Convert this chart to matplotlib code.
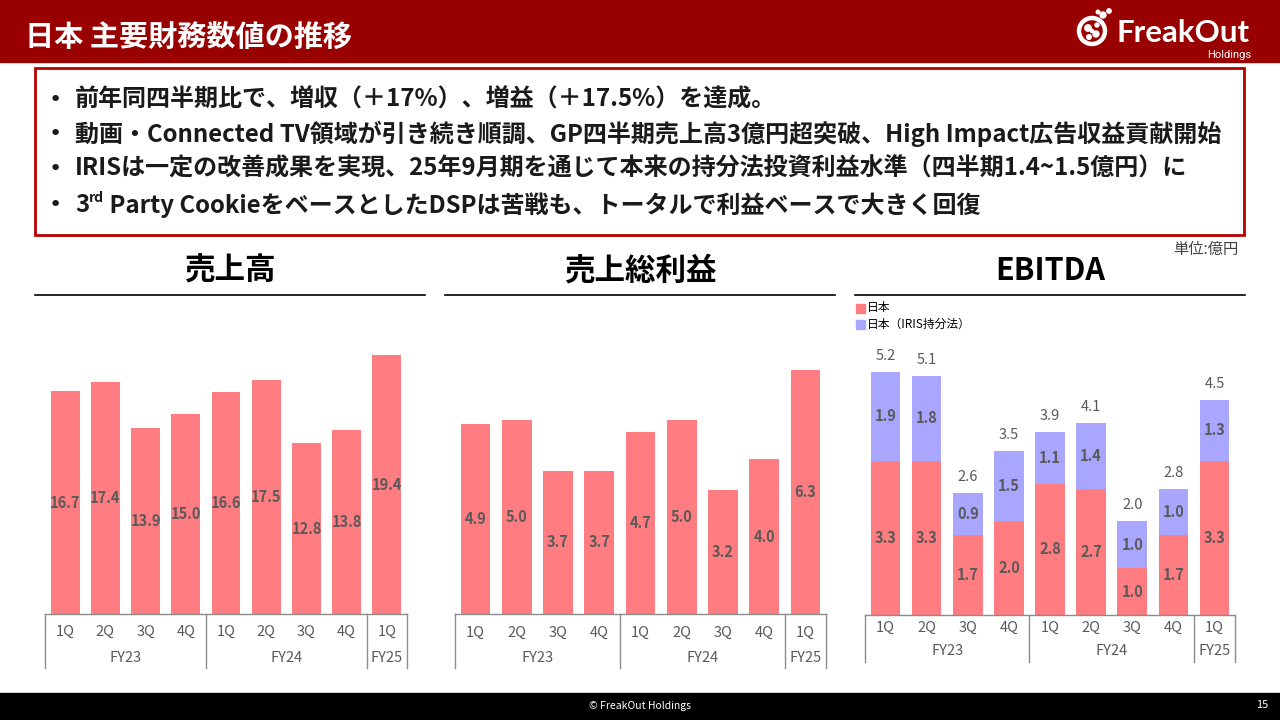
import matplotlib
matplotlib.use('Agg')
import matplotlib.pyplot as plt
from matplotlib.patches import Rectangle, Circle
from matplotlib.transforms import blended_transform_factory

plt.rcParams['font.family'] = ['Noto Sans CJK JP', 'DejaVu Sans']

# ---------------- data ----------------
quarters = ['1Q', '2Q', '3Q', '4Q', '1Q', '2Q', '3Q', '4Q', '1Q']
fiscal_years = ['FY23', 'FY24', 'FY25']
fy_counts = [4, 4, 1]
sales = [16.7, 17.4, 13.9, 15.0, 16.6, 17.5, 12.8, 13.8, 19.4]
gross_profit = [4.9, 5.0, 3.7, 3.7, 4.7, 5.0, 3.2, 4.0, 6.3]
ebitda_japan = [3.3, 3.3, 1.7, 2.0, 2.8, 2.7, 1.0, 1.7, 3.3]
ebitda_iris = [1.9, 1.8, 0.9, 1.5, 1.1, 1.4, 1.0, 1.0, 1.3]
ebitda_total = [5.2, 5.1, 2.6, 3.5, 3.9, 4.1, 2.0, 2.8, 4.5]
chart_titles = ['売上高', '売上総利益', 'EBITDA']
legend_labels = ['日本', '日本（IRIS持分法）']
bullets = [
    '前年同四半期比で、増収（＋17%）、増益（＋17.5%）を達成。',
    '動画・Connected TV領域が引き続き順調、GP四半期売上高3億円超突破、High Impact広告収益貢献開始',
    'IRISは一定の改善成果を実現、25年9月期を通じて本来の持分法投資利益水準（四半期1.4~1.5億円）に',
]
bullet4 = ['3', 'rd', ' Party CookieをベースとしたDSPは苦戦も、トータルで利益ベースで大きく回復']

RED = '#FF7C80'
PURPLE = '#A9A6FF'
LABEL = '#595959'
AXIS = '#8C8C8C'
TXT = '#1A1A1A'
BFS = 17.3

W, H = 1280, 720
fig = plt.figure(figsize=(12.8, 7.2), dpi=100)
bg = fig.add_axes([0, 0, 1, 1])
bg.set_xlim(0, W)
bg.set_ylim(H, 0)
bg.axis('off')

# header band
bg.add_patch(Rectangle((0, 0), W, 62, color='#990000', zorder=1))
bg.text(25, 37, '日本 主要財務数値の推移', color='white', fontsize=21,
        fontweight='bold', va='center', ha='left', zorder=3)

# logo
cx, cy = 1092, 31
bg.add_patch(Circle((cx, cy), 13, fill=False, ec='white', lw=3.2, zorder=3))
for (dx, dy, r) in [(-4, -3, 3.2), (4, 3, 3.0), (-3, 6, 2.3), (5, -6, 2.0),
                    (11, -16, 3.0), (17, -20, 2.2), (6, -19, 1.8), (0, 0, 1.6)]:
    bg.add_patch(Circle((cx + dx, cy + dy), r, color='white', zorder=3))
bg.text(1250, 33, 'FreakOut', color='white', fontsize=22.5, fontweight='bold',
        family=['Lato', 'DejaVu Sans'], ha='right', va='center', zorder=3)
bg.text(1251, 55, 'Holdings', color='white', fontsize=8, family=['Roboto', 'DejaVu Sans'],
        ha='right', va='center', zorder=3)

# bullet box
bg.add_patch(Rectangle((35, 68), 1209, 167, fill=False, ec='#B30000', lw=2, zorder=2))
line_y = [100, 134, 169, 205]
for y, txt in zip(line_y[:3], bullets):
    bg.text(49, y, '•', fontsize=16, va='center', ha='left', color=TXT, family='DejaVu Sans')
    bg.text(75, y, txt, fontsize=BFS, fontweight='bold', va='center', ha='left', color=TXT)
y4 = line_y[3]
bg.text(49, y4, '•', fontsize=16, va='center', ha='left', color=TXT, family='DejaVu Sans')
t3 = bg.text(75, y4, bullet4[0], fontsize=BFS, fontweight='bold', va='center', ha='left', color=TXT)
trd = bg.annotate(bullet4[1], xy=(1, y4 - 7), xycoords=(t3, 'data'), fontsize=10,
                  fontweight='bold', va='center', ha='left', color=TXT)
bg.annotate(bullet4[2], xy=(1, y4), xycoords=(trd, 'data'), fontsize=BFS,
            fontweight='bold', va='center', ha='left', color=TXT)

# unit
bg.text(1238, 249, '単位:億円', fontsize=11, ha='right', va='center', color='#404040')

# footer
bg.add_patch(Rectangle((0, 693), W, 27, color='black', zorder=1))
bg.text(640, 706, '© FreakOut Holdings', color='white', fontsize=7.5, ha='center', va='center', zorder=3)
bg.text(1262, 705, '15', color='white', fontsize=8, ha='center', va='center', zorder=3)

# chart panels
panels = [
    dict(title_x=230, line=(35, 425), left=45, right=407, base=614, ppu=13.35, qy=632, fyy=658, sepb=668),
    dict(title_x=640, line=(445, 835), left=455, right=826, base=614, ppu=38.75, qy=633, fyy=658, sepb=668),
    dict(title_x=1050, line=(855, 1245), left=865, right=1235, base=615, ppu=46.8, qy=628, fyy=651, sepb=662),
]
TOP = 320

axes = []
for p, title in zip(panels, chart_titles):
    bg.text(p['title_x'], 271, title, fontsize=22, fontweight='bold', ha='center', va='center', color='black')
    bg.plot(p['line'], [295, 295], color='black', lw=1.2)
    ax = fig.add_axes([p['left'] / W, 1 - p['base'] / H, (p['right'] - p['left']) / W, (p['base'] - TOP) / H])
    ax.set_xlim(-0.5, len(quarters) - 0.5)
    ax.set_ylim(0, (p['base'] - TOP) / p['ppu'])
    ax.patch.set_alpha(0)
    for s in ['top', 'left', 'right']:
        ax.spines[s].set_visible(False)
    ax.spines['bottom'].set_color(AXIS)
    ax.spines['bottom'].set_linewidth(1)
    ax.set_xticks([])
    ax.set_yticks([])
    tr = blended_transform_factory(ax.transData, bg.transData)
    for i, q in enumerate(quarters):
        ax.text(i, p['qy'], q, transform=tr, ha='center', va='center', fontsize=10.5, color=LABEL)
    start = 0
    for fy, n in zip(fiscal_years, fy_counts):
        ax.text(start + (n - 1) / 2, p['fyy'], fy, transform=tr, ha='center', va='center',
                fontsize=10.5, color=LABEL)
        start += n
    bounds = [-0.5]
    for n in fy_counts:
        bounds.append(bounds[-1] + n)
    for b in bounds:
        ax.plot([b, b], [p['base'], p['sepb']], transform=tr, color=AXIS, lw=1, clip_on=False)
    axes.append(ax)

x = list(range(len(quarters)))
BW = 0.72

# sales
ax = axes[0]
ax.bar(x, sales, width=BW, color=RED)
for xi, v in zip(x, sales):
    ax.text(xi, v / 2, f'{v:.1f}', ha='center', va='center', fontsize=10.5, fontweight='bold', color=LABEL)

# gross profit
ax = axes[1]
ax.bar(x, gross_profit, width=BW, color=RED)
for xi, v in zip(x, gross_profit):
    ax.text(xi, v / 2, f'{v:.1f}', ha='center', va='center', fontsize=10.5, fontweight='bold', color=LABEL)

# EBITDA stacked
ax = axes[2]
ax.bar(x, ebitda_japan, width=BW, color=RED)
ax.bar(x, ebitda_iris, width=BW, bottom=ebitda_japan, color=PURPLE)
for xi, a, b, t in zip(x, ebitda_japan, ebitda_iris, ebitda_total):
    ax.text(xi, a / 2, f'{a:.1f}', ha='center', va='center', fontsize=10.5, fontweight='bold', color=LABEL)
    ax.text(xi, a + b / 2, f'{b:.1f}', ha='center', va='center', fontsize=10.5, fontweight='bold', color=LABEL)
    ax.annotate(f'{t:.1f}', xy=(xi, a + b), xytext=(0, 16), textcoords='offset pixels',
                ha='center', va='center', fontsize=10.5, color=LABEL)

# legend for EBITDA
for (yy, lab, col) in zip([308, 324], legend_labels, [RED, PURPLE]):
    bg.add_patch(Rectangle((856, yy - 4.5), 9, 9, color=col))
    bg.text(867, yy, lab, fontsize=8.5, ha='left', va='center', color='black')

fig.savefig('out.png', dpi=100)
